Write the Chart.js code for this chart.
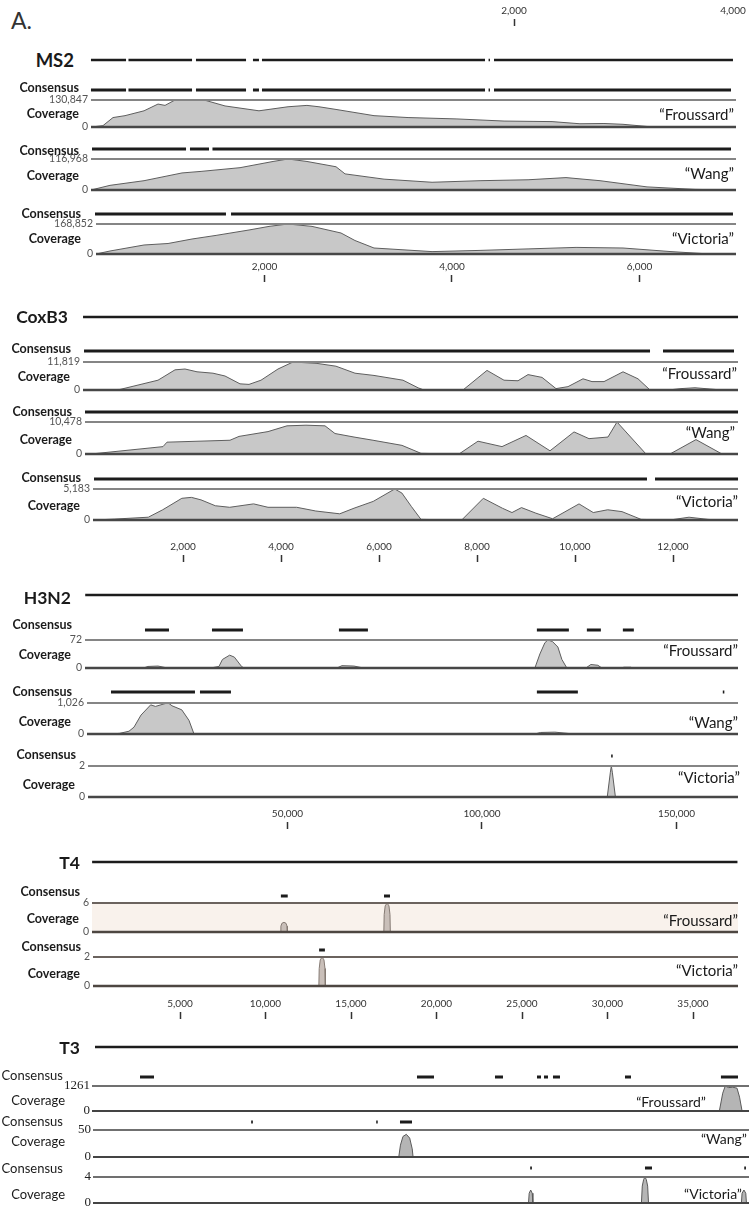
<!DOCTYPE html>
<html>
<head>
<meta charset="utf-8">
<script src="https://cdn.jsdelivr.net/npm/chart.js@4.4.1/dist/chart.umd.min.js"></script>
<style>
  body { margin: 0; background: #fff; }
  #page { position: relative; width: 752px; height: 1216px; overflow: hidden; font-family: Lato, "Noto Sans", sans-serif; color: #1a1a1a; }
  .box { position: absolute; left: 0; }
  .lbl { position: absolute; width: 200px; text-align: right; line-height: 1; white-space: nowrap; transform: translateY(-50%); }
  .b { font-weight: 700; font-size: 12.5px; }
  .r { font-weight: 400; font-size: 13px; }
  .gene { font-weight: 700; font-size: 17.5px; }
  .big { font-size: 18.5px; }
  .name { font-weight: 400; font-size: 15px; }
  .name3 { font-weight: 400; font-size: 14px; }
  .title { font-weight: 400; font-size: 23px; color: #333; }
</style>
</head>
<body>
<div id="page"></div>
<script>
// ---- data (positions in nt, coverage in reads) ----

// MS2
const ms2TopTicks = [2000, 4000];
const ms2Ticks = [2000, 4000, 6000];
const ms2Genome = [[149, 523], [549, 1227], [1269, 1803], [1877, 1941], [1973, 4352], [4390, 4405], [4448, 6997]];
const ms2FroussardCons = [[149, 523], [549, 1227], [1269, 1803], [1877, 1941], [1973, 4352], [4390, 4405], [4448, 6976]];
const ms2WangCons = [[160, 1163], [1205, 1408], [1445, 6976]];
const ms2VictoriaCons = [[192, 1589], [1643, 6997]];
const ms2FroussardPos = [149, 203, 277, 384, 512, 715, 864, 939, 1045, 1376, 1579, 1941, 2251, 2453, 2581, 2763, 3168, 3531, 4043, 4555, 5067, 5365, 5621, 5824, 6080, 6336, 6976];
const ms2FroussardCov = [0, 2617, 6542, 45796, 54956, 78508, 111220, 104678, 130847, 128230, 102061, 78508, 98135, 104678, 98135, 85051, 54956, 45796, 39254, 28786, 26169, 15702, 17010, 13085, 2617, 0, 0];
const ms2WangPos = [149, 352, 715, 1120, 1323, 1739, 2091, 2251, 2453, 2763, 2859, 3275, 3787, 4299, 4811, 5216, 5579, 6080, 6592, 6976];
const ms2WangCov = [0, 17545, 35090, 64332, 70181, 84217, 107611, 116968, 107611, 87726, 60823, 40939, 29242, 35090, 38599, 46787, 35090, 11697, 2339, 0];
const ms2VictoriaPos = [203, 352, 715, 971, 1227, 1483, 1835, 2048, 2251, 2507, 2816, 2965, 3168, 3787, 4299, 4811, 5323, 5824, 6336, 6752, 6997];
const ms2VictoriaCov = [0, 16885, 50656, 59098, 84426, 104688, 135082, 155344, 168852, 155344, 118196, 75983, 33770, 13508, 20262, 28705, 37147, 33770, 13508, 0, 0];

// CoxB3
const coxTicks = [2000, 4000, 6000, 8000, 10000, 12000];
const coxGenome = [[-40, 13327]];
const coxFroussardCons = [[-20, 11531], [11796, 13245]];
const coxWangCons = [[0, 13327]];
const coxVictoriaCons = [[184, 11469], [11633, 13327]];
const coxFroussardPos = [0, 714, 1490, 1837, 2041, 2286, 2612, 2857, 3163, 3347, 3592, 3939, 4245, 4735, 5122, 5510, 5898, 6490, 6800, 6918, 7714, 8204, 8551, 8837, 9041, 9327, 9612, 9857, 10163, 10347, 10592, 10980, 11286, 11531, 11900, 12163, 12449, 13000];
const coxFroussardCov = [0, 236, 4137, 8510, 8864, 7682, 7091, 5910, 2600, 2364, 4137, 8864, 11819, 11228, 10046, 7091, 6146, 4137, 900, 0, 0, 8273, 4137, 3900, 6500, 5319, 591, 1418, 4728, 3546, 3546, 7682, 4728, 0, 0, 591, 946, 0];
const coxWangPos = [122, 1592, 1673, 2959, 3143, 3735, 4122, 4510, 4898, 5102, 5490, 5878, 6469, 6857, 7633, 8020, 8510, 9000, 9490, 9980, 10286, 10673, 10857, 11449, 11939, 12469, 13000];
const coxWangCov = [0, 2410, 3877, 4506, 5763, 7335, 9221, 9430, 9221, 6706, 5553, 4506, 2829, 210, 0, 4191, 2410, 6077, 1048, 7230, 5029, 5553, 10478, 0, 0, 4715, 0];
const coxVictoriaPos = [189, 609, 1292, 1586, 1976, 2171, 2367, 2659, 2953, 3441, 3735, 4320, 4710, 5198, 5490, 5882, 6320, 6467, 6663, 6857, 7688, 8129, 8518, 8714, 8908, 9202, 9543, 10082, 10373, 10667, 10959, 11349, 11937, 12327, 12714, 12912];
const coxVictoriaCov = [0, 155, 466, 1710, 3628, 3784, 3369, 2384, 2125, 2695, 2125, 2125, 1503, 1037, 1970, 3110, 5183, 4509, 2229, 104, 0, 3628, 1970, 1244, 2073, 1140, 207, 2695, 1244, 1710, 1399, 104, 0, 466, 104, 0];

// H3N2
const h3Ticks = [50000, 100000, 150000];
const h3Genome = [[-2000, 165800]];
const h3FroussardCons = [[13364, 19532], [30583, 38550], [63222, 70675], [114108, 122332], [126958, 130556], [136210, 139037]];
const h3WangCons = [[4626, 26214], [27499, 35466], [114108, 124645], [161900, 162300]];
const h3VictoriaCons = [[133200, 133600]];
const h3FroussardPos = [0, 12979, 14135, 16705, 19147, 30198, 32382, 33282, 35132, 36340, 38190, 38807, 62708, 63993, 67077, 69544, 113594, 114879, 116164, 116935, 118117, 119505, 120533, 121818, 126701, 127986, 129785, 130813, 135953, 136467, 138266, 138780];
const h3FroussardCov = [0, 0, 4, 5, 0, 0, 4, 22, 33, 28, 4, 0, 0, 6, 5, 0, 0, 36, 65, 72, 68, 54, 22, 0, 0, 9, 7, 0, 0, 2, 2, 0];
const h3WangPos = [0, 4626, 6836, 9252, 10537, 12336, 14829, 16062, 18504, 19378, 20303, 22822, 24672, 25906, 26471, 27756, 35209, 35980, 113594, 115059, 118734, 123617];
const h3WangCov = [0, 0, 21, 92, 226, 626, 964, 913, 1005, 1026, 934, 800, 451, 21, 0, 10, 10, 0, 0, 51, 62, 0];
const h3VictoriaPos = [0, 132200, 133000, 133250, 133500, 134300];
const h3VictoriaCov = [0, 0, 1.6, 2, 1.6, 0];

// T4
const t4Ticks = [5000, 10000, 15000, 20000, 25000, 30000, 35000];
const t4Genome = [[-140, 37600]];
const t4FroussardCons = [[10900, 11300], [16930, 17280]];
const t4VictoriaCons = [[13135, 13474]];
const t4FroussardPos = [0, 10880, 10900, 10960, 11080, 11200, 11260, 11280, 16920, 16940, 17000, 17110, 17220, 17280, 17300];
const t4FroussardCov = [0, 0, 1.2, 1.8, 2, 1.8, 1.2, 0, 0, 3.6, 5.4, 6, 5.4, 3.6, 0];
const t4VictoriaPos = [0, 13120, 13140, 13200, 13310, 13420, 13480, 13500];
const t4VictoriaCov = [0, 0, 1.2, 1.8, 2, 1.8, 1.2, 0];

// T3
const t3Genome = [[0, 38208]];
const t3FroussardCons = [[2674, 3506], [19133, 20143], [23768, 24243], [26264, 26502], [26680, 26918], [27214, 27630], [31493, 31849], [37194, 38208]];
const t3WangCons = [[9280, 9380], [16710, 16800], [18123, 18836]];
const t3VictoriaCons = [[25860, 25960], [32681, 33097], [38580, 38680]];
const t3FroussardPos = [0, 2600, 2700, 3400, 3500, 37100, 37300, 37450, 37650, 37900, 38150, 38300, 38450];
const t3FroussardCov = [0, 0, 15, 15, 0, 0, 900, 1261, 1180, 1200, 1150, 700, 0];
const t3WangPos = [0, 18050, 18150, 18300, 18500, 18700, 18850, 18900];
const t3WangCov = [0, 0, 22, 38, 42, 35, 15, 0];
const t3VictoriaPos = [0, 25760, 25800, 25890, 25980, 26020, 32470, 32520, 32600, 32680, 32760, 32840, 32890, 38410, 38450, 38560, 38670, 38710];
const t3VictoriaCov = [0, 0, 1.5, 2, 1.5, 0, 0, 2.6, 3.6, 4, 3.6, 2.6, 0, 0, 1.5, 2, 1.5, 0];

// ---- drawing ----
Chart.defaults.font.family = 'Lato, "Noto Sans", sans-serif';
Chart.defaults.animation = false;
Chart.defaults.plugins.legend.display = false;
Chart.defaults.plugins.tooltip.enabled = false;

const page = document.getElementById('page');
const W = 752;
const LINE_L = 70, LINE_R = 750;

// px = x0 + k * nt for each panel
const grey = { fill: '#c8c8c8', edge: '#5e5e5e', top: ['#858585', 2], bottom: ['#474747', 2.4], tickFont: { family: '"Liberation Sans Narrow", Lato, sans-serif', size: 10.5 }, tickColor: '#555', tickPad: 3 };
const ms2 = Object.assign({ x0: 77, k: 0.09375 }, grey);
const cox = Object.assign({ x0: 85, k: 0.049 }, grey);
const h3 = Object.assign({ x0: 93, k: 0.00389 }, grey);
const t4 = Object.assign({}, grey, { x0: 94.5, k: 0.0171, fill: '#c9bfb9', edge: '#857a73', top: ['#6b635e', 2], bottom: ['#4d4641', 2.4] });
const t3 = Object.assign({}, grey, { x0: 95, k: 643 / 38208, fill: '#b5b5b5', edge: '#5a5a5a', top: ['#707070', 2], bottom: ['#444', 2.2], tickFont: { family: '"Liberation Serif", serif', size: 13 }, tickColor: '#222', tickPad: 2, plain: true });

function label(text, right, y, cls) {
  const d = document.createElement('div');
  d.className = 'lbl ' + cls;
  d.textContent = text;
  d.style.left = (right - 200) + 'px';
  d.style.top = y + 'px';
  page.appendChild(d);
}

function makeCanvas(top, height) {
  const div = document.createElement('div');
  div.className = 'box';
  div.style.top = top + 'px';
  div.style.width = W + 'px';
  div.style.height = height + 'px';
  const c = document.createElement('canvas');
  c.width = W;
  c.height = height;
  div.appendChild(c);
  page.appendChild(div);
  return c;
}

function range(p, L, R) {
  return { min: (L - p.x0) / p.k, max: (R - p.x0) / p.k };
}

// top and bottom rules of each coverage box
const boxLines = {
  id: 'boxLines',
  beforeDatasetsDraw(chart, args, o) {
    if (!o.bg) return;
    const a = chart.chartArea;
    chart.ctx.save();
    chart.ctx.fillStyle = o.bg;
    chart.ctx.fillRect(a.left, a.top, a.right - a.left, a.bottom - a.top);
    chart.ctx.restore();
  },
  afterDatasetsDraw(chart, args, o) {
    const { ctx, chartArea: a, scales: { y } } = chart;
    const yt = y.getPixelForValue(y.max), yb = y.getPixelForValue(y.min);
    ctx.save();
    ctx.strokeStyle = o.top[0];
    ctx.lineWidth = o.top[1];
    ctx.beginPath(); ctx.moveTo(a.left, yt); ctx.lineTo(a.right, yt); ctx.stroke();
    ctx.strokeStyle = o.bottom[0];
    ctx.lineWidth = o.bottom[1];
    ctx.beginPath(); ctx.moveTo(a.left, yb); ctx.lineTo(a.right, yb); ctx.stroke();
    ctx.restore();
  }
};

// genome line or consensus bars: segments joined by null gaps
function segLine(p, segs, y, width) {
  const c = makeCanvas(y - 6, 12);
  const pts = [];
  segs.forEach(s => { pts.push({ x: s[0], y: 0 }, { x: s[1], y: 0 }, { x: s[1], y: null }); });
  const r = range(p, LINE_L, LINE_R);
  new Chart(c, {
    type: 'line',
    data: { datasets: [{ data: pts, borderColor: '#1c1c1c', borderWidth: width, pointRadius: 0, borderCapStyle: 'butt', spanGaps: false }] },
    options: {
      responsive: false,
      layout: { padding: { left: LINE_L, right: W - LINE_R, top: 0, bottom: 0 } },
      scales: {
        x: { type: 'linear', min: r.min, max: r.max, display: false },
        y: { min: -1, max: 1, display: false }
      }
    }
  });
}

function coverage(p, t) {
  const pad = 10;
  const c = makeCanvas(t.top - pad, t.bottom - t.top + 2 * pad);
  const r = range(p, t.L, t.R);
  new Chart(c, {
    type: 'line',
    data: {
      datasets: [{
        data: t.pos.map((x, i) => ({ x: x, y: t.cov[i] })),
        fill: 'origin', backgroundColor: p.fill, borderColor: p.edge, borderWidth: 1,
        pointRadius: 0, tension: 0
      }]
    },
    options: {
      responsive: false,
      layout: { padding: { top: pad, bottom: pad, left: 0, right: W - t.R } },
      scales: {
        x: { type: 'linear', min: r.min, max: r.max, display: false },
        y: {
          min: 0, max: t.max,
          afterFit: s => { s.width = t.L; },
          afterBuildTicks: s => { s.ticks = [{ value: 0 }, { value: t.max }]; },
          ticks: { callback: v => p.plain ? String(v) : v.toLocaleString('en-US'), font: p.tickFont, color: p.tickColor, padding: p.tickPad },
          grid: { display: false, drawTicks: false },
          border: { display: false }
        }
      },
      plugins: { boxLines: { top: p.top, bottom: p.bottom, bg: t.bg || null } }
    },
    plugins: [boxLines]
  });
}

function axis(p, ticks, bottom, hide) {
  const H = 22;
  const c = makeCanvas(bottom - H, H + 2);
  const r = range(p, LINE_L, LINE_R);
  new Chart(c, {
    type: 'line',
    data: { datasets: [] },
    options: {
      responsive: false,
      layout: { padding: { left: LINE_L, right: W - LINE_R, top: 0, bottom: 0 } },
      scales: {
        x: {
          type: 'linear', position: 'top', min: r.min, max: r.max,
          afterFit: s => { s.height = H; },
          afterBuildTicks: s => { s.ticks = ticks.map(v => ({ value: v })); },
          ticks: { autoSkip: false, maxRotation: 0, padding: 2, font: { size: 10 }, color: '#333', callback: v => v.toLocaleString('en-US') },
          grid: { drawOnChartArea: false, drawTicks: true, tickLength: 7, tickWidth: 1.5, tickColor: ctx => (hide && ctx.tick && hide.includes(ctx.tick.value)) ? 'rgba(0,0,0,0)' : '#333' },
          border: { display: false }
        },
        y: { display: false }
      }
    }
  });
}

function track(p, t) {
  segLine(p, t.cons, t.consY, 3);
  coverage(p, t);
  label('Consensus', t.lab[0], t.lab[1], t.cls);
  label('Coverage', t.lab[2], t.lab[3], t.cls);
  label('\u201C' + t.name + '\u201D', t.lab[4], t.lab[5], t.nameCls || 'name');
}

label('A.', 32, 20, 'title');

// MS2
axis({ x0: 295, k: 0.1095 }, ms2TopTicks, 26, [4000]);
label('MS2', 74, 60, 'gene big');
segLine(ms2, ms2Genome, 60, 2.6);
track(ms2, { name: 'Froussard', cons: ms2FroussardCons, consY: 90, top: 100, bottom: 127, L: 91, R: 736, pos: ms2FroussardPos, cov: ms2FroussardCov, max: 130847, cls: 'b', lab: [79, 88, 79, 114, 734, 114] });
track(ms2, { name: 'Wang', cons: ms2WangCons, consY: 149, top: 159, bottom: 190, L: 91, R: 736, pos: ms2WangPos, cov: ms2WangCov, max: 116968, cls: 'b', lab: [79, 151, 79, 176, 734, 173] });
track(ms2, { name: 'Victoria', cons: ms2VictoriaCons, consY: 214, top: 224, bottom: 254, L: 96, R: 736, pos: ms2VictoriaPos, cov: ms2VictoriaCov, max: 168852, cls: 'b', lab: [81, 214, 81, 239, 734, 238] });
axis(ms2, ms2Ticks, 282);

// CoxB3
label('CoxB3', 68, 317, 'gene');
segLine(cox, coxGenome, 317, 2.6);
track(cox, { name: 'Froussard', cons: coxFroussardCons, consY: 351, top: 362, bottom: 390, L: 83, R: 738, pos: coxFroussardPos, cov: coxFroussardCov, max: 11819, cls: 'b', lab: [71, 349, 70, 377, 737, 373] });
track(cox, { name: 'Wang', cons: coxWangCons, consY: 412, top: 422, bottom: 454, L: 85, R: 738, pos: coxWangPos, cov: coxWangCov, max: 10478, cls: 'b', lab: [72, 412, 72, 440, 735, 432] });
track(cox, { name: 'Victoria', cons: coxVictoriaCons, consY: 479, top: 489, bottom: 520, L: 93, R: 738, pos: coxVictoriaPos, cov: coxVictoriaCov, max: 5183, cls: 'b', lab: [81, 478, 80, 506, 738, 501] });
axis(cox, coxTicks, 562);

// H3N2
label('H3N2', 71, 598, 'gene');
segLine(h3, h3Genome, 595, 2.6);
track(h3, { name: 'Froussard', cons: h3FroussardCons, consY: 630, top: 640, bottom: 668, L: 85, R: 738, pos: h3FroussardPos, cov: h3FroussardCov, max: 72, cls: 'b', lab: [72, 625, 71, 655, 738, 650] });
track(h3, { name: 'Wang', cons: h3WangCons, consY: 692, top: 703, bottom: 734, L: 87, R: 738, pos: h3WangPos, cov: h3WangCov, max: 1026, cls: 'b', lab: [72, 692, 71, 722, 738, 722] });
track(h3, { name: 'Victoria', cons: h3VictoriaCons, consY: 756, top: 766, bottom: 797, L: 88, R: 738, pos: h3VictoriaPos, cov: h3VictoriaCov, max: 2, cls: 'b', lab: [76, 755, 75, 785, 740, 777] });
axis(h3, h3Ticks, 829);

// T4
label('T4', 80, 863, 'gene');
segLine(t4, t4Genome, 862, 2.6);
track(t4, { name: 'Froussard', cons: t4FroussardCons, consY: 896, top: 903, bottom: 932, L: 92, R: 738, pos: t4FroussardPos, cov: t4FroussardCov, max: 6, bg: '#f9f2ec', cls: 'b', lab: [80, 892, 79, 919, 738, 920] });
track(t4, { name: 'Victoria', cons: t4VictoriaCons, consY: 950, top: 957, bottom: 986, L: 93, R: 738, pos: t4VictoriaPos, cov: t4VictoriaCov, max: 2, cls: 'b', lab: [81, 947, 80, 974, 738, 970] });
axis(t4, t4Ticks, 1019);

// T3
label('T3', 80, 1048, 'gene');
segLine(t3, t3Genome, 1047, 2.6);
track(t3, { name: 'Froussard', cons: t3FroussardCons, consY: 1077, top: 1086, bottom: 1111, L: 92, R: 749, pos: t3FroussardPos, cov: t3FroussardCov, max: 1261, cls: 'r', nameCls: 'name3', lab: [63, 1075, 65, 1100, 706, 1102] });
track(t3, { name: 'Wang', cons: t3WangCons, consY: 1122, top: 1130, bottom: 1157, L: 93, R: 749, pos: t3WangPos, cov: t3WangCov, max: 50, cls: 'r', nameCls: 'name3', lab: [63, 1121, 65, 1141, 747, 1139] });
track(t3, { name: 'Victoria', cons: t3VictoriaCons, consY: 1168, top: 1177, bottom: 1203, L: 93, R: 749, pos: t3VictoriaPos, cov: t3VictoriaCov, max: 4, cls: 'r', nameCls: 'name3', lab: [63, 1168, 65, 1194, 742, 1194] });
</script>
</body>
</html>
